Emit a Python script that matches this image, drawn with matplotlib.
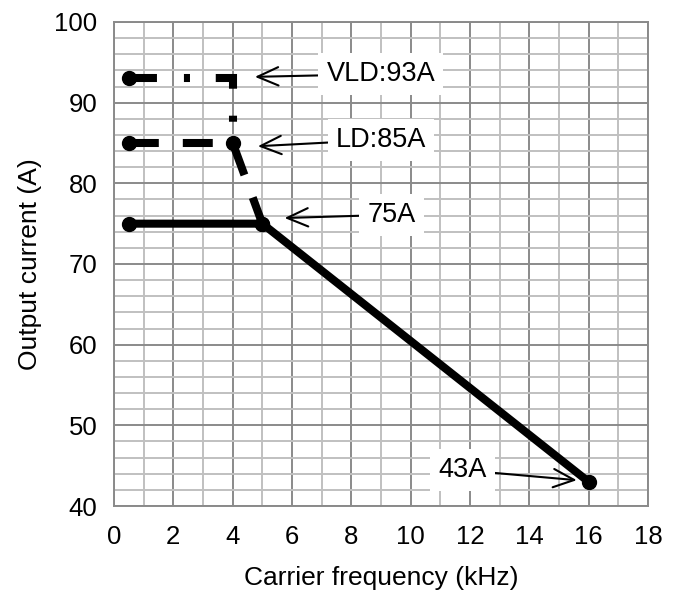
import numpy as np
import matplotlib.pyplot as plt
from matplotlib.ticker import MultipleLocator

plt.rcParams['font.family'] = ['Liberation Sans', 'DejaVu Sans']

# derating curves (carrier frequency kHz, output current A)
nd_x = [0.5, 5, 16]
nd_y = [75, 75, 43]
ld_x = [0.5, 4, 5]
ld_y = [85, 85, 75]
vld_x = [0.5, 4, 4]
vld_y = [93, 93, 85]

# callouts: text, arrow tip, text centre
labels = ['VLD:93A', 'LD:85A', '75A', '43A']
tips = [(4.75, 93.2), (4.85, 84.6), (5.75, 75.7), (15.6, 43.2)]
text_pos = [(9.0, 93.55), (9.0, 85.4), (9.35, 76.1), (11.75, 44.45)]

fig = plt.figure(figsize=(6.79, 5.96), dpi=100)
ax = fig.add_axes([0.1679, 0.151, 0.7864, 0.8121])

lw = 5.8
ax.plot(nd_x, nd_y, color='black', lw=lw, marker='o', ms=10, zorder=3,
        solid_joinstyle='miter')
ax.plot(ld_x, ld_y, color='black', lw=lw, marker='o', ms=10, zorder=3,
        dashes=(3.72, 2.98), dash_joinstyle='miter')
ax.plot(vld_x, vld_y, color='black', lw=lw, marker='o', ms=10, markevery=[0],
        zorder=3, dashes=(3.47, 3.35, 0.75, 3.2), dash_joinstyle='miter')

for txt, tip, pos in zip(labels, tips, text_pos):
    ax.annotate(txt, xy=tip, xytext=pos, fontsize=19.5, ha='center', va='center',
                bbox=dict(boxstyle='square,pad=0.3', fc='white', ec='none'),
                arrowprops=dict(arrowstyle='->,head_length=0.5,head_width=0.22',
                                color='black', lw=1.5,
                                mutation_scale=30, shrinkA=0, shrinkB=0),
                zorder=4)

ax.set_xlim(0, 18)
ax.set_ylim(40, 100)
ax.xaxis.set_major_locator(MultipleLocator(2))
ax.xaxis.set_minor_locator(MultipleLocator(1))
ax.yaxis.set_major_locator(MultipleLocator(10))
ax.yaxis.set_minor_locator(MultipleLocator(2))
ax.grid(which='minor', color='#c0c0c0', lw=1.4, zorder=0)
ax.grid(which='major', color='#8a8a8a', lw=1.4, zorder=1)
ax.set_axisbelow(True)
for s in ax.spines.values():
    s.set_color('#8a8a8a')
    s.set_linewidth(1.4)
ax.tick_params(which='both', length=0, labelsize=18.5)
ax.tick_params(axis='x', pad=14)
ax.tick_params(axis='y', pad=12)

ax.set_xlabel('Carrier frequency (kHz)', fontsize=19, labelpad=12)
ax.set_ylabel('Output current (A)', fontsize=19, labelpad=9)

fig.savefig('out.png', dpi=100)
